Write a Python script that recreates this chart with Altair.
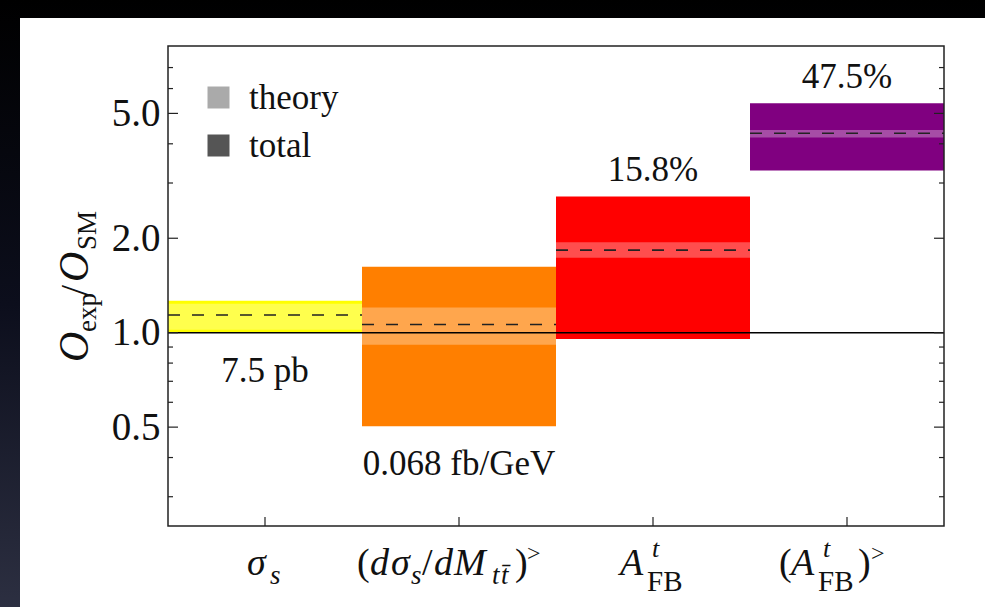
import altair as alt
import pandas as pd

# ---------------- data ----------------
categories = ["sigma_s", "dsigma_dM", "AFB", "AFB_gt"]
central = [1.138, 1.062, 1.833, 4.32]
total_lo = [1.00, 0.503, 0.955, 3.29]
total_hi = [1.263, 1.622, 2.718, 5.39]
theory_lo = [1.022, 0.916, 1.733, 4.19]
theory_hi = [1.236, 1.203, 1.942, 4.43]
total_colors = ["#FFFF00", "#FF7F00", "#FF0000", "#800080"]
theory_colors = ["#FFFF4D", "#FFA64D", "#FF4D4D", "#A64DA6"]
annotations = ["7.5 pb", "0.068 fb/GeV", "15.8%", "47.5%"]
major_ticks = [0.5, 1.0, 2.0, 5.0]
minor_ticks = [0.3, 0.4, 0.6, 0.7, 0.8, 0.9, 3.0, 4.0, 6.0, 7.0]
legend_items = ["theory", "total"]
legend_colors = ["#AAAAAA", "#555555"]

# ---------------- layout ----------------
W, H = 776, 480
PL, PT, PR, PB = 168, 46, 41, 81
FONT = "Liberation Serif"
INK = "#111111"

df = pd.DataFrame({
    "idx": list(range(len(categories))),
    "cat": categories,
    "x0": [i for i in range(len(categories))],
    "x1": [i + 1 for i in range(len(categories))],
    "xc": [i + 0.5 for i in range(len(categories))],
    "central": central,
    "total_lo": total_lo,
    "total_hi": total_hi,
    "theory_lo": theory_lo,
    "theory_hi": theory_hi,
    "total_color": total_colors,
    "theory_color": theory_colors,
    "annotation": annotations,
})
one = pd.DataFrame({"k": [0]})

xs = alt.Scale(domain=[0, 4], nice=False, zero=False)
ys = alt.Scale(type="log", domain=[0.242, 8.2], nice=False)

yaxis = alt.Axis(values=major_ticks, format=".1f", ticks=False, domain=False, grid=False,
                 labelFont=FONT, labelFontSize=39, labelColor=INK, labelPadding=8,
                 title=None, zindex=1)


def X(f):
    return alt.X(f, type="quantitative", scale=xs, axis=None)


def Y(f):
    return alt.Y(f, type="quantitative", scale=ys, axis=yaxis)


layers = []

# dark page background and white panel (decoration)
layers.append(
    alt.Chart(one).mark_rect(
        color={"gradient": "linear", "x1": 0, "x2": 0, "y1": 0, "y2": 1,
               "stops": [{"offset": 0, "color": "#000000"},
                         {"offset": 0.5, "color": "#0c0e1c"},
                         {"offset": 1, "color": "#2c2f41"}]}
    ).encode(x=alt.value(-PL), x2=alt.value(W + PR), y=alt.value(-PT), y2=alt.value(H + PB))
)
layers.append(
    alt.Chart(one).mark_rect(color="white").encode(
        x=alt.value(20 - PL), x2=alt.value(W + PR), y=alt.value(18 - PT), y2=alt.value(H + PB)
    )
)

# total bands
layers.append(
    alt.Chart(df).mark_rect().encode(
        x=X("x0"), x2="x1", y=Y("total_lo"), y2="total_hi",
        fill=alt.Fill("total_color:N", scale=None)
    )
)
# theory bands
layers.append(
    alt.Chart(df).mark_rect().encode(
        x=X("x0"), x2="x1", y=Y("theory_lo"), y2="theory_hi",
        fill=alt.Fill("theory_color:N", scale=None)
    )
)
# SM reference line at 1
layers.append(
    alt.Chart(pd.DataFrame({"v": [1.0]})).mark_rule(color="black", strokeWidth=1.5).encode(y=Y("v"))
)
# central values (dashed)
layers.append(
    alt.Chart(df).mark_rule(color="#222222", strokeWidth=1.6, strokeDash=[12, 12]).encode(
        x=X("x0"), x2="x1", y=Y("central")
    )
)
# annotations
layers.append(
    alt.Chart(df).transform_filter("datum.idx < 2").mark_text(
        font=FONT, fontSize=35, color=INK, baseline="alphabetic", dy=49
    ).encode(x=X("xc"), y=Y("total_lo"), text="annotation:N")
)
layers.append(
    alt.Chart(df).transform_filter("datum.idx >= 2").mark_text(
        font=FONT, fontSize=35, color=INK, baseline="alphabetic", dy=-15
    ).encode(x=X("xc"), y=Y("total_hi"), text="annotation:N")
)

# inward frame ticks
tick_major = pd.DataFrame({"v": major_ticks})
tick_minor = pd.DataFrame({"v": minor_ticks})
for data, ln in [(tick_major, 10), (tick_minor, 5)]:
    layers.append(alt.Chart(data).mark_rule(color="#222222", strokeWidth=1.2).encode(
        y=Y("v"), x=alt.value(0), x2=alt.value(ln)))
    layers.append(alt.Chart(data).mark_rule(color="#222222", strokeWidth=1.2).encode(
        y=Y("v"), x=alt.value(W - ln), x2=alt.value(W)))
layers.append(alt.Chart(df).mark_rule(color="#222222", strokeWidth=1.2).encode(
    x=X("xc"), y=alt.value(H - 9), y2=alt.value(H)))

# x tick labels composed of pieces (text, dx, dy, size, italic)
XBASE = 575 - PT
xlabel_pieces = {
    0: [("σ", -18, 0, 38, True), ("s", 5, 9, 27, True)],
    1: [("(", -102, 0, 38, False), ("d", -89, 0, 38, True), ("σ", -68, 0, 38, True),
        ("s", -48, 9, 27, True), ("/", -37, 0, 38, False), ("d", -25, 0, 38, True),
        ("M", -5, 0, 38, True), ("t", 33, 9, 27, True), ("t\u0304", 42, 9, 27, True),
        (")", 56, 0, 38, False), (">", 68, -14, 24, False)],
    2: [("A", -33, 0, 38, True), ("t", -1, -18, 26, True), ("FB", -6, 16, 29, False)],
    3: [("(", -68, 0, 38, False), ("A", -56, 0, 38, True), ("t", -24, -18, 26, True),
        ("FB", -29, 16, 29, False), (")", 11, 0, 38, False), (">", 24, -14, 24, False)],
}
for i, pieces in xlabel_pieces.items():
    d = pd.DataFrame({"xc": [i + 0.5]})
    for txt, dx, dy, size, ital in pieces:
        kw = dict(font=FONT, fontSize=size, color=INK, align="left", baseline="alphabetic",
                  dx=dx, dy=dy, text=txt)
        if ital:
            kw["fontStyle"] = "italic"
        layers.append(alt.Chart(d).mark_text(**kw).encode(x=X("xc"), y=alt.value(XBASE)))

# y title composed of pieces (rotated): text, baseline x, start y, size, italic
ytitle_pieces = [
    ("O", 88, 362, 42, True),
    ("exp", 96, 332, 27, False),
    ("/", 88, 296, 40, False),
    ("O", 88, 282, 42, True),
    ("SM", 96, 250, 27, False),
]
for txt, bx, sy, size, ital in ytitle_pieces:
    kw = dict(font=FONT, fontSize=size, color=INK, align="left", baseline="alphabetic",
              angle=270, text=txt)
    if ital:
        kw["fontStyle"] = "italic"
    layers.append(alt.Chart(one).mark_text(**kw).encode(x=alt.value(bx - PL), y=alt.value(sy - PT)))

# legend
leg = pd.DataFrame({"item": legend_items})
layers.append(
    alt.Chart(leg).mark_square(opacity=0).encode(
        x=alt.value(0), y=alt.value(0),
        color=alt.Color("item:N", scale=alt.Scale(domain=legend_items, range=legend_colors),
                        legend=alt.Legend(orient="none", legendX=33, legendY=34, title=None,
                                          symbolType="square", symbolSize=484, symbolOpacity=1,
                                          symbolStrokeWidth=0, labelFont=FONT, labelFontSize=35,
                                          labelColor=INK, labelOffset=13, rowPadding=12,
                                          padding=0, zindex=2))
    )
)

# frame
layers.append(
    alt.Chart(one).mark_rect(fill="transparent", stroke="#222222", strokeWidth=1.5).encode(
        x=alt.value(0), x2=alt.value(W), y=alt.value(0), y2=alt.value(H)
    )
)

chart = alt.layer(*layers).properties(
    width=W, height=H,
    autosize=alt.AutoSizeParams(type="none"),
    padding={"left": PL, "top": PT, "right": PR, "bottom": PB},
    background="#000000",
).configure_view(strokeWidth=0)

chart.save("out.html", embed_options={"renderer": "svg", "actions": False})
